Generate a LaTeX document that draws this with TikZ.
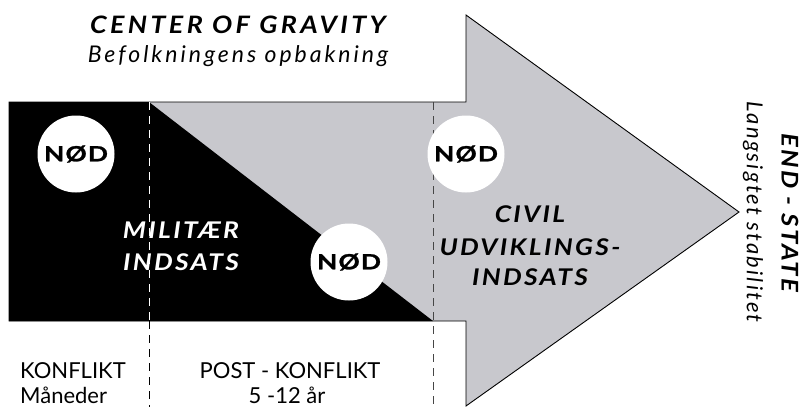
\documentclass[tikz,border=0pt]{standalone}
\usepackage{fontspec}
\setmainfont{Lato}
\usetikzlibrary{positioning}
\definecolor{pilgraa}{RGB}{200,200,205}
\definecolor{stregraa}{RGB}{70,70,70}
\newcommand{\fs}[1]{\fontsize{#1}{#1}\selectfont}
\begin{document}
\begin{tikzpicture}[x=1pt,y=-1pt,
    nod/.style={circle, fill=white, minimum size=77pt, inner sep=0pt,
      font=\fs{21}\bfseries\addfontfeature{FakeStretch=1.25,FakeBold=1.2,LetterSpace=6}},
    indsats/.style={align=center, inner sep=0pt,
      font=\fs{23}\bfseries\itshape\addfontfeature{FakeStretch=1.15,LetterSpace=10}},
    fase/.style={inner sep=0pt, font=\fs{22}},
    streg/.style={dash pattern=on 8pt off 6pt, line width=0.9pt}]
    \useasboundingbox (0,0) rectangle (805,407);
    % Pil og sort felt
    \fill[pilgraa] (9,102) -- (466,102) -- (466,15) -- (739,212) -- (466,406) -- (466,321) -- (9,321) -- cycle;
    \fill[black] (9,102) -- (149,102) -- (433,321) -- (9,321) -- cycle;
    \draw[line width=0.9pt] (9,102) -- (466,102) -- (466,15) -- (739,212) -- (466,406) -- (466,321) -- (9,321) -- cycle;
    % Faseskel
    \draw[streg, white] (149,102) -- (149,321);
    \draw[streg, black] (149,321) -- (149,407);
    \draw[streg, stregraa] (433,102) -- (433,407);
    % Titler
    \node[anchor=base, inner sep=0pt, font=\fs{24}\bfseries\itshape\addfontfeature{FakeStretch=1.12,LetterSpace=14}] (cog) at (238,33) {CENTER OF GRAVITY};
    \node[anchor=base, inner sep=0pt, font=\fs{23}\itshape\addfontfeature{LetterSpace=13}] (opbakning) at (238,62) {Befolkningens opbakning};
    \node[rotate=-90, inner sep=0pt, font=\fs{23}\bfseries\itshape\addfontfeature{FakeStretch=1.12,LetterSpace=10}] (endstate) at (790,213) {END - STATE};
    \node[rotate=-90, inner sep=0pt, font=\fs{22}\itshape\addfontfeature{LetterSpace=10}] (stabilitet) at (753,212) {Langsigtet stabilitet};
    % Indsatser
    \node[indsats, white, anchor=base] (militaer) at (181,270) {MILITÆR\\[9pt]INDSATS};
    \node[indsats, anchor=base] (civil) at (530,285) {CIVIL\\[10pt]UDVIKLINGS-\\[7pt]INDSATS};
    % Nød
    \node[nod] (nod1) at (76,154) {NØD};
    \node[nod] (nod2) at (349,262) {NØD};
    \node[nod] (nod3) at (466,154) {NØD};
    % Faser
    \node[fase, anchor=base west] (konflikt) at (20,378) {KONFLIKT};
    \node[fase, anchor=base west] (maaneder) at (20,403) {Måneder};
    \node[fase, anchor=base] (postkonflikt) at (290,378) {POST - KONFLIKT};
    \node[fase, anchor=base] (aar) at (287,403) {5 -12 år};
\end{tikzpicture}
\end{document}
